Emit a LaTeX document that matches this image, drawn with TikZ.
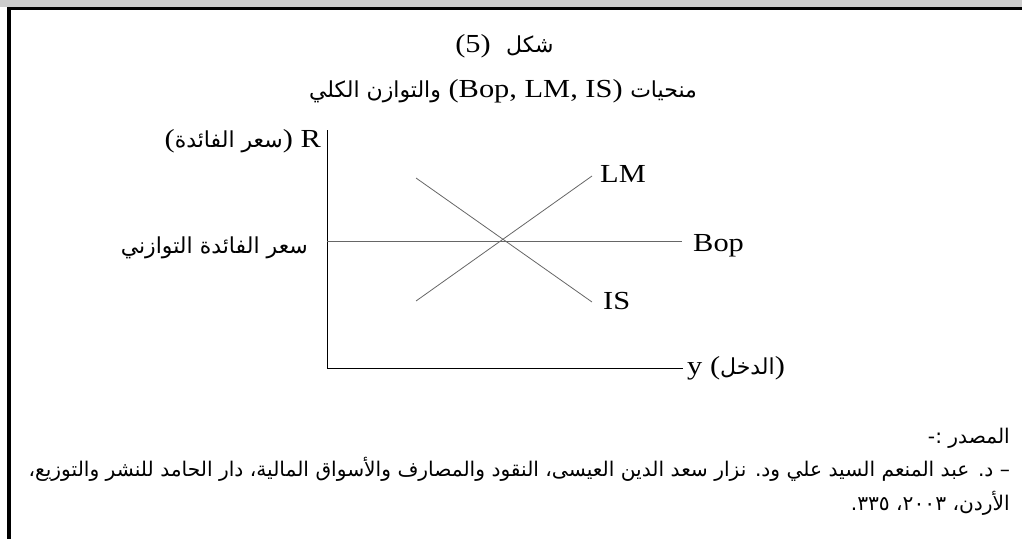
\documentclass[tikz,border=0pt]{standalone}
\usepackage{fontspec}
\setmainfont{Liberation Serif}[FakeStretch=1.17]
\newfontfamily\arabicfont[Script=Arabic]{DejaVu Sans}
\TeXXeTstate=1
\newcommand{\arbig}{\arabicfont\fontsize{22}{26}\selectfont}
\begin{document}
\begin{tikzpicture}[x=1pt,y=-1pt,
  lat/.style={inner sep=0pt,font=\fontsize{26}{30}\selectfont},
  ar/.style={inner sep=0pt,font=\arbig},
  src/.style={inner sep=0pt,font=\arabicfont\fontsize{20.2}{23}\selectfont},
  axis/.style={black,line width=0.9pt},
  curve/.style={black!60,line width=0.8pt}]
\useasboundingbox (0,0) rectangle (1022,539);
% frame
\fill[black!20] (0,0) rectangle (1022,7);
\fill[black] (7,7) rectangle (1022,10);
\fill[black] (7,7) rectangle (11,539);
% titles
\node[lat,anchor=base east] (five) at (491,52) {(5)};
\node[ar,anchor=base west] (shakl) at (506,52) {\beginR شكل\endR};
\node[lat,anchor=base] (title) at (503,97) {{\arbig\beginR والتوازن الكلي\endR} (Bop, LM, IS) {\arbig\beginR منحيات\endR}};
% axes
\coordinate (O) at (327,368);
\coordinate (top) at (327,130);
\coordinate (xend) at (683,368);
\draw[axis] (top) -- (O) -- (xend);
\coordinate (b1) at (327,241);
\coordinate (b2) at (682,241);
\draw[curve] (b1) -- (b2);
\coordinate (lm1) at (416,301);
\coordinate (lm2) at (592,176);
\coordinate (is1) at (416,178);
\coordinate (is2) at (592,302);
\draw[curve] (lm1) -- (lm2);
\draw[curve] (is1) -- (is2);
% labels
\node[lat,anchor=base east] (R) at (321,147) {(\hbox{\arbig\beginR سعر الفائدة\endR}) R};
\node[ar,anchor=base east] (eq) at (308,253) {\beginR سعر الفائدة التوازني\endR};
\node[lat,anchor=base west] (LM) at (600,182) {LM};
\node[lat,anchor=base west] (Bop) at (693,251) {Bop};
\node[lat,anchor=base west] (IS) at (603,309) {IS};
\node[lat,anchor=base west] (y) at (687,374) {y (\hbox{\arbig\beginR الدخل\endR})};
% source
\node[src,anchor=base east] (s1) at (1010,443) {\beginR المصدر :-\endR};
\node[src,anchor=base east] (s2) at (1010,476) {\beginR – د. عبد المنعم السيد علي ود. نزار سعد الدين العيسى، النقود والمصارف والأسواق المالية، دار الحامد للنشر والتوزيع،\endR};
\node[src,anchor=base east] (s3) at (1010,510) {\beginR الأردن، \beginL٢٠٠٣\endL، \beginL٣٣٥\endL.\endR};
\end{tikzpicture}
\end{document}
